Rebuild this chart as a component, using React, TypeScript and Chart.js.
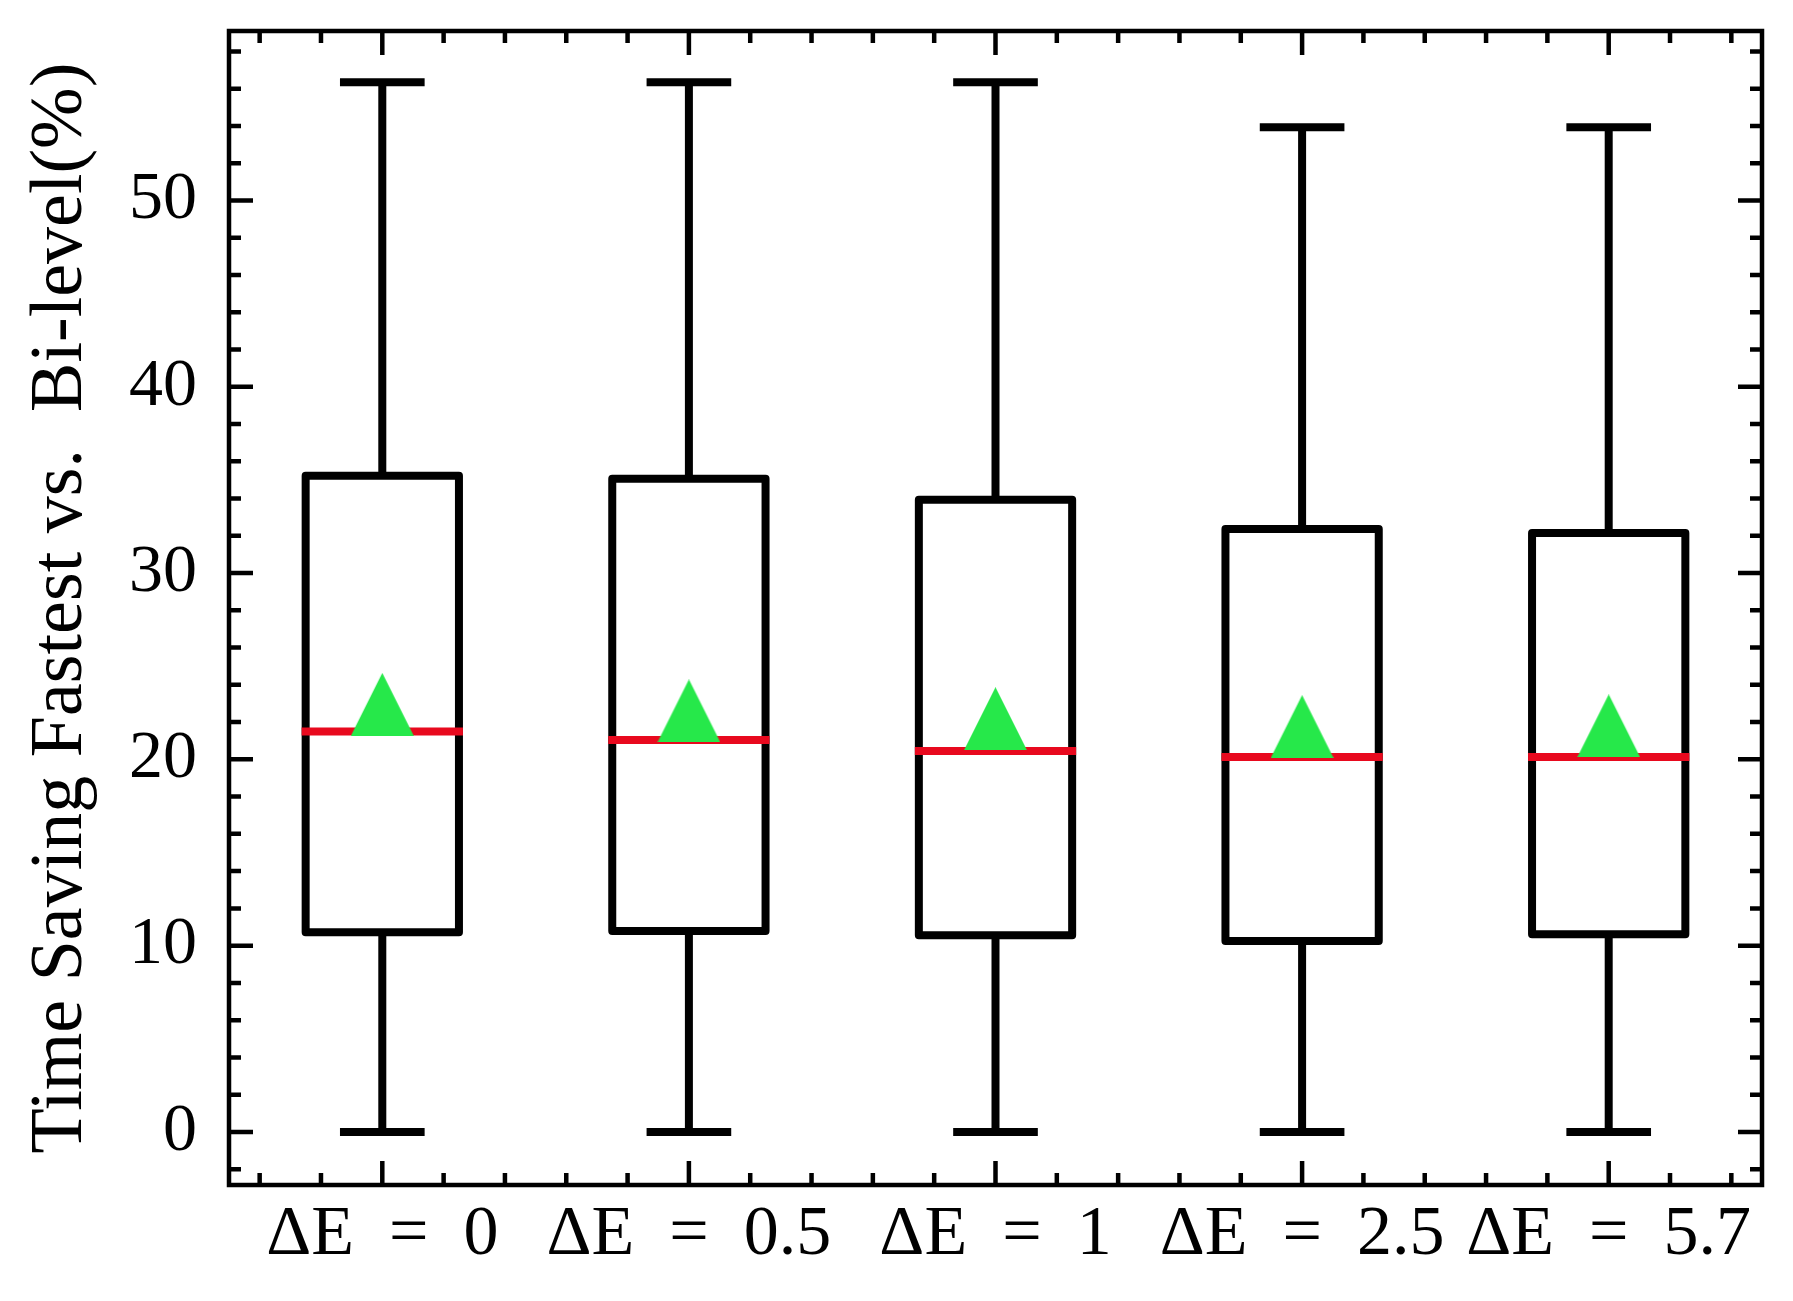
import { useEffect, useRef } from 'react';
import { Chart, registerables } from 'chart.js';

Chart.register(...registerables);

const categories = ['ΔE\u2002=\u20020', 'ΔE\u2002=\u20020.5', 'ΔE\u2002=\u20021', 'ΔE\u2002=\u20022.5', 'ΔE\u2002=\u20025.7'];
const whiskerLow = [0, 0, 0, 0, 0];
const q1 = [10.72, 10.79, 10.56, 10.25, 10.61];
const medians = [21.5, 21.04, 20.45, 20.12, 20.12];
const q3 = [35.23, 35.07, 33.94, 32.36, 32.15];
const whiskerHigh = [56.35, 56.35, 56.35, 53.93, 53.93];
const means = [22.95, 22.6, 22.18, 21.76, 21.8];
const yTickStep = 10;
const yMinorStep = 2;
const xMinorStep = 0.2;

const FONT = 'Liberation Serif';

// box outlines, whiskers, caps and medians, drawn right after the box fills
const boxParts = {
  id: 'boxParts',
  afterDatasetDraw(chart: any, args: any) {
    if (args.index !== 0) return;
    const { ctx } = chart;
    const x = chart.scales.x;
    const y = chart.scales.y;
    const bars = chart.getDatasetMeta(0).data;
    ctx.save();
    ctx.strokeStyle = '#000';
    ctx.lineWidth = 8;
    ctx.lineJoin = 'round';
    bars.forEach((bar: any) => {
      const { x: bx, y: by, base, width } = bar.getProps(['x', 'y', 'base', 'width'], true);
      ctx.strokeRect(bx - width / 2, Math.min(by, base), width, Math.abs(base - by));
    });
    categories.forEach((_, i) => {
      const cx = x.getPixelForValue(i);
      ctx.strokeStyle = '#000';
      ctx.lineCap = 'butt';
      ctx.beginPath();
      ctx.moveTo(cx, y.getPixelForValue(q3[i]));
      ctx.lineTo(cx, y.getPixelForValue(whiskerHigh[i]));
      ctx.moveTo(cx, y.getPixelForValue(q1[i]));
      ctx.lineTo(cx, y.getPixelForValue(whiskerLow[i]));
      ctx.stroke();

      ctx.lineCap = 'square';
      ctx.beginPath();
      const capL = x.getPixelForValue(i - 0.125);
      const capR = x.getPixelForValue(i + 0.125);
      [whiskerHigh[i], whiskerLow[i]].forEach((v) => {
        const py = y.getPixelForValue(v);
        ctx.moveTo(capL, py);
        ctx.lineTo(capR, py);
      });
      ctx.stroke();

      ctx.strokeStyle = '#e8091e';
      ctx.beginPath();
      const my = y.getPixelForValue(medians[i]);
      ctx.moveTo(x.getPixelForValue(i - 0.25), my);
      ctx.lineTo(x.getPixelForValue(i + 0.25), my);
      ctx.stroke();
    });
    ctx.restore();
  },
};

// frame with inward ticks on all four sides
const frame = {
  id: 'frame',
  afterDraw(chart: any) {
    const { ctx, chartArea: a } = chart;
    const x = chart.scales.x;
    const y = chart.scales.y;
    ctx.save();
    ctx.strokeStyle = '#000';
    ctx.lineCap = 'butt';
    ctx.lineWidth = 4.5;
    ctx.beginPath();
    const tick = (px: number, major: boolean, vertical: boolean) => {
      const len = major ? 24 : 12;
      if (vertical) {
        ctx.moveTo(px, a.bottom);
        ctx.lineTo(px, a.bottom - len);
        ctx.moveTo(px, a.top);
        ctx.lineTo(px, a.top + len);
      } else {
        ctx.moveTo(a.left, px);
        ctx.lineTo(a.left + len, px);
        ctx.moveTo(a.right, px);
        ctx.lineTo(a.right - len, px);
      }
    };
    // box positions are 1..n, category indices 0..n-1
    const kFirst = Math.ceil((x.min + 0.5) / xMinorStep - 1e-6);
    const kLast = Math.floor((x.max + 1.5) / xMinorStep + 1e-6);
    for (let k = kFirst; k <= kLast; k++) {
      const pos = Math.round(k * xMinorStep * 10) / 10;
      tick(x.getPixelForValue(pos - 1), Math.abs(pos - Math.round(pos)) < 1e-6, true);
    }
    for (let v = Math.ceil(y.min / yMinorStep) * yMinorStep; v <= y.max; v += yMinorStep) {
      tick(y.getPixelForValue(v), v % yTickStep === 0, false);
    }
    ctx.stroke();
    ctx.strokeRect(a.left, a.top, a.right - a.left, a.bottom - a.top);
    ctx.restore();
  },
};

export default function App() {
  const chartRef = useRef<HTMLCanvasElement>(null);

  useEffect(() => {
    if (!chartRef.current) return;
    const ctx = chartRef.current.getContext('2d');
    if (!ctx) return;

    // matplotlib style '^' marker
    const tri = document.createElement('canvas');
    tri.width = 63;
    tri.height = 63;
    const tctx = tri.getContext('2d')!;
    tctx.fillStyle = '#26e84a';
    tctx.beginPath();
    tctx.moveTo(31.5, 0);
    tctx.lineTo(63, 63);
    tctx.lineTo(0, 63);
    tctx.closePath();
    tctx.fill();

    const chart = new Chart(ctx, {
      type: 'bar',
      data: {
        labels: categories,
        datasets: [
          {
            data: q1.map((v, i) => [v, q3[i]]),
            backgroundColor: '#ffffff',
            borderWidth: 0,
            categoryPercentage: 1,
            barPercentage: 0.5,
            order: 1,
          } as any,
          {
            type: 'line',
            data: means,
            showLine: false,
            pointStyle: tri,
            pointRadius: 30,
            pointHoverRadius: 30,
            order: 0,
          } as any,
        ],
      },
      options: {
        animation: false,
        responsive: true,
        maintainAspectRatio: false,
        events: [],
        layout: { padding: { top: 31, right: 27, left: 0, bottom: 0 } },
        plugins: {
          legend: { display: false },
          tooltip: { enabled: false },
        },
        scales: {
          x: {
            offset: true,
            grid: { display: false, drawTicks: false },
            border: { display: false },
            ticks: {
              color: '#000',
              font: { family: FONT, size: 70 },
              padding: 9,
              maxRotation: 0,
              autoSkip: false,
            },
            afterFit: (scale: any) => {
              scale.height = 116;
              scale.paddingLeft = 0;
              scale.paddingRight = 0;
            },
          },
          y: {
            min: -2.85,
            max: 59.1,
            grid: { display: false, drawTicks: false },
            border: { display: false },
            ticks: {
              stepSize: yTickStep,
              includeBounds: false,
              color: '#000',
              font: { family: FONT, size: 68 },
              padding: 32,
            },
            title: {
              display: true,
              text: 'Time Saving Fastest vs.  Bi-level(%)',
              color: '#000',
              font: { family: FONT, size: 74 },
              padding: { top: 17, bottom: 0 },
            },
            afterFit: (scale: any) => {
              scale.width = 229;
              scale.paddingTop = 0;
              scale.paddingBottom = 0;
            },
          },
        },
      },
      plugins: [boxParts, frame],
    });

    return () => chart.destroy();
  }, []);

  return (
    <div style={{ position: 'absolute', left: 0, top: 0, width: 1793, height: 1301, background: '#fff' }}>
      <canvas ref={chartRef} />
    </div>
  );
}
